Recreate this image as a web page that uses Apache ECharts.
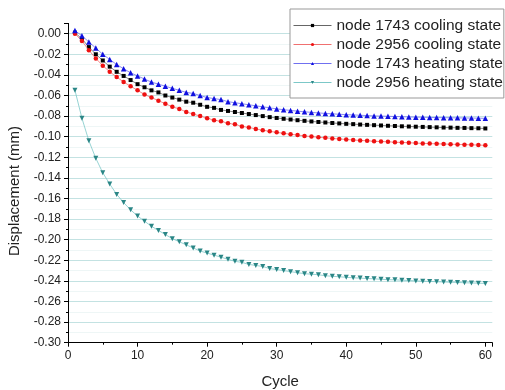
<!DOCTYPE html>
<html>
<head>
<meta charset="utf-8">
<script src="https://cdn.jsdelivr.net/npm/echarts@6/dist/echarts.min.js"></script>
<style>
html,body{margin:0;padding:0;background:#fff;}
#chart{width:505px;height:390px;}
</style>
</head>
<body>
<div id="chart"></div>
<script>
const cycles = [1,2,3,4,5,6,7,8,9,10,11,12,13,14,15,16,17,18,19,20,21,22,23,24,25,26,27,28,29,30,31,32,33,34,35,36,37,38,39,40,41,42,43,44,45,46,47,48,49,50,51,52,53,54,55,56,57,58,59,60];

const seriesNames = ['node 1743 cooling state','node 2956 cooling state','node 1743 heating state','node 2956 heating state'];

const cooling1743 = [0.001,-0.005,-0.013,-0.020,-0.026,-0.032,-0.037,-0.041,-0.045,-0.049,-0.052,-0.055,-0.057,-0.060,-0.062,-0.064,-0.066,-0.067,-0.069,-0.071,-0.072,-0.074,-0.075,-0.076,-0.077,-0.078,-0.079,-0.080,-0.081,-0.0818,-0.0826,-0.0833,-0.0840,-0.0846,-0.0852,-0.0857,-0.0862,-0.0867,-0.0871,-0.0875,-0.0878,-0.0882,-0.0885,-0.0888,-0.0891,-0.0894,-0.0896,-0.0899,-0.0901,-0.0903,-0.0905,-0.0907,-0.0909,-0.0911,-0.0912,-0.0914,-0.0915,-0.0917,-0.0918,-0.0920];

const cooling2956 = [0.000,-0.007,-0.016,-0.024,-0.031,-0.037,-0.042,-0.047,-0.051,-0.055,-0.059,-0.062,-0.065,-0.068,-0.071,-0.073,-0.076,-0.078,-0.080,-0.082,-0.084,-0.085,-0.087,-0.088,-0.090,-0.091,-0.0925,-0.0937,-0.0948,-0.0958,-0.0967,-0.0976,-0.0984,-0.0992,-0.0999,-0.1005,-0.1011,-0.1017,-0.1022,-0.1027,-0.1032,-0.1036,-0.1040,-0.1044,-0.1047,-0.1050,-0.1053,-0.1056,-0.1059,-0.1062,-0.1065,-0.1067,-0.1069,-0.1071,-0.1073,-0.1075,-0.1077,-0.1079,-0.1081,-0.1084];

const heating1743 = [0.003,-0.002,-0.008,-0.014,-0.020,-0.025,-0.030,-0.034,-0.038,-0.041,-0.044,-0.047,-0.049,-0.051,-0.053,-0.055,-0.057,-0.058,-0.060,-0.062,-0.063,-0.064,-0.066,-0.067,-0.068,-0.069,-0.070,-0.071,-0.072,-0.073,-0.0738,-0.0745,-0.0752,-0.0758,-0.0764,-0.0769,-0.0774,-0.0778,-0.0782,-0.0786,-0.0789,-0.0792,-0.0795,-0.0798,-0.0800,-0.0802,-0.0804,-0.0806,-0.0808,-0.0810,-0.0811,-0.0813,-0.0814,-0.0815,-0.0816,-0.0817,-0.0818,-0.0819,-0.0820,-0.0822];

const heating2956 = [-0.055,-0.082,-0.104,-0.121,-0.135,-0.146,-0.156,-0.164,-0.171,-0.177,-0.182,-0.187,-0.191,-0.195,-0.199,-0.202,-0.205,-0.208,-0.211,-0.213,-0.215,-0.217,-0.219,-0.221,-0.222,-0.224,-0.225,-0.226,-0.228,-0.229,-0.230,-0.231,-0.232,-0.233,-0.2335,-0.234,-0.235,-0.2355,-0.236,-0.2365,-0.237,-0.2373,-0.2377,-0.238,-0.2384,-0.2388,-0.239,-0.2393,-0.2396,-0.240,-0.2403,-0.2405,-0.2408,-0.241,-0.2413,-0.2415,-0.2418,-0.242,-0.2422,-0.2425];

const xTicks = [0,10,20,30,40,50,60];
const yTicks = [0.00,-0.02,-0.04,-0.06,-0.08,-0.10,-0.12,-0.14,-0.16,-0.18,-0.20,-0.22,-0.24,-0.26,-0.28,-0.30];

function pairs(ys){ return cycles.map((c,i)=>[c, ys[i]]); }

const FONT = '"Liberation Sans", Arial, sans-serif';
const chart = echarts.init(document.getElementById('chart'), null, {renderer:'canvas'});

const styles = [
  {data: cooling1743, color:'#000000', line:'#666666', symbol:'rect', size:4},
  {data: cooling2956, color:'#ee1111', line:'#f07070', symbol:'circle', size:4.5},
  {data: heating1743, color:'#1010e0', line:'#7070f0', symbol:'triangle', size:5.5},
  {data: heating2956, color:'#2a8686', line:'#7cc8c8', symbol:'path://M0,0 L10,0 L5,9 Z', size:5}
];

chart.setOption({
  animation:false,
  backgroundColor:'#ffffff',
  textStyle:{fontFamily:FONT},
  grid:{left:68, right:12.7, top:23.4, bottom:47.3, containLabel:false, outerBoundsMode:'none'},
  legend:{
    orient:'vertical', left:290, top:9,
    backgroundColor:'#ffffff', borderColor:'#999999', borderWidth:1,
    padding:[8,1,7,3], itemGap:2, itemWidth:38, itemHeight:4,
    textStyle:{fontFamily:FONT, fontSize:15.5, color:'#222', lineHeight:17, padding:[0,0,0,0]},
    data: seriesNames.map((n,i)=>({name:n, lineStyle:{color:styles[i].line, width:1}}))
  },
  xAxis:{
    type:'value', min:0, max:61, interval:10,
    name:'Cycle', nameLocation:'middle', nameGap:32,
    nameTextStyle:{fontFamily:FONT, fontSize:15, color:'#222'},
    axisLine:{show:true, onZero:false, lineStyle:{color:'#000', width:1}},
    axisTick:{show:true, inside:false, length:4, lineStyle:{color:'#000'}},
    minorTick:{show:true, splitNumber:2, length:2, lineStyle:{color:'#000'}},
    axisLabel:{fontFamily:FONT, fontSize:12, color:'#222', margin:7, showMaxLabel:false,
      formatter:(v)=> xTicks.indexOf(v) >= 0 ? String(v) : ''},
    splitLine:{show:false}
  },
  yAxis:{
    type:'value', min:-0.30, max:0.01, interval:0.02,
    name:'Displacement (mm)', nameLocation:'middle', nameGap:46,
    nameTextStyle:{fontFamily:FONT, fontSize:15, color:'#222', padding:[0,16,0,0]},
    axisLine:{show:true, onZero:false, lineStyle:{color:'#000', width:1}},
    axisTick:{show:true, inside:false, length:4, lineStyle:{color:'#000'}},
    minorTick:{show:true, splitNumber:2, length:2, lineStyle:{color:'#000'}},
    axisLabel:{fontFamily:FONT, fontSize:12, color:'#222', margin:7, showMaxLabel:false,
      formatter:(v)=>{
        const r = Math.round(v*100)/100;
        const hit = yTicks.some(t=>Math.abs(t-r)<1e-9) && Math.abs(v-r)<1e-9;
        if(!hit) return '';
        return (Math.abs(r)<1e-9 ? 0 : r).toFixed(2);
      }},
    splitLine:{show:true, showMaxLine:false, showMinLine:false, lineStyle:{color:'#c3e2e2', width:1}},
    minorSplitLine:{show:true, lineStyle:{color:'#eef6f6', width:1}}
  },
  series: styles.map((s,i)=>({
    name: seriesNames[i],
    type:'line',
    data: pairs(s.data),
    symbol: s.symbol,
    symbolSize: s.size,
    showSymbol:true,
    itemStyle:{color:s.color},
    lineStyle:{color:s.line, width:0.8},
    z: 2 + i
  }))
});
</script>
</body>
</html>
